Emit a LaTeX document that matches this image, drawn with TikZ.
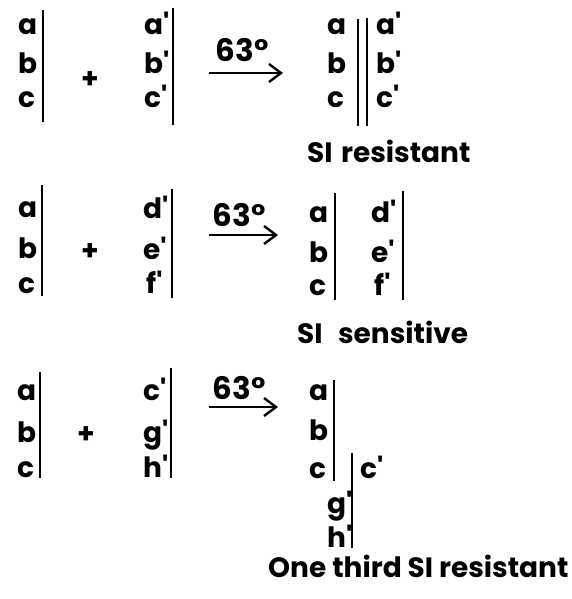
\documentclass[tikz,border=0pt]{standalone}
\usepackage{fontspec}
\setmainfont{Poppins}
\usetikzlibrary{arrows.meta}
\newcommand{\pr}{\textquotesingle}
\begin{document}
\begin{tikzpicture}[x=1pt,y=-1pt,
  lbl/.style={font=\fontsize{28}{28}\selectfont\bfseries, inner sep=0pt, anchor=base west},
  caption/.style={font=\fontsize{28}{28}\selectfont\bfseries, inner sep=0pt, anchor=base west},
  temp/.style={font=\fontsize{31}{31}\selectfont\bfseries, inner sep=0pt, anchor=base},
  bar/.style={line width=2.6pt},
  react/.style={line width=2.6pt, -{Straight Barb[length=12pt,width=18pt,line width=2.4pt]}},
  plus/.style={font=\fontsize{28}{28}\selectfont\bfseries, inner sep=0pt}]
\useasboundingbox (0,0) rectangle (572,599);

% ---------- first cross ----------
\node[lbl] (a1) at (18,35) {a};
\node[lbl] (b1) at (18,74) {b};
\node[lbl] (c1) at (18,108) {c};
\coordinate (l1t) at (43,10); \coordinate (l1b) at (43,122);
\draw[bar] (l1t) -- (l1b);
\node[plus] (p1) at (90,80) {+};
\node[lbl] (ap1) at (144,35) {a\pr};
\node[lbl] (bp1) at (144,74) {b\pr};
\node[lbl] (cp1) at (144,108) {c\pr};
\coordinate (r1t) at (173,8); \coordinate (r1b) at (173,125);
\draw[bar] (r1t) -- (r1b);
\coordinate (s1) at (209,73); \coordinate (e1) at (283,73);
\draw[react] (s1) -- (e1);
\node[temp] (t1) at (242,62) {63°};

\node[lbl] (ra1) at (327,35) {a};
\node[lbl] (rb1) at (327,74) {b};
\node[lbl] (rc1) at (327,108) {c};
\coordinate (d1t) at (358,19); \coordinate (d1b) at (358,126);
\coordinate (d2t) at (367,18); \coordinate (d2b) at (367,126);
\draw[bar] (d1t) -- (d1b);
\draw[bar] (d2t) -- (d2b);
\node[lbl] (rap1) at (376,35) {a\pr};
\node[lbl] (rbp1) at (376,74) {b\pr};
\node[lbl] (rcp1) at (376,108) {c\pr};
\node[caption] (res1) at (307,162) {SI\hspace{0.3em}resistant};

% ---------- second cross ----------
\node[lbl] (a2) at (18,217) {a};
\node[lbl] (b2) at (18,258) {b};
\node[lbl] (c2) at (18,293) {c};
\coordinate (l2t) at (42,185); \coordinate (l2b) at (42,296);
\draw[bar] (l2t) -- (l2b);
\node[plus] (p2) at (90,252) {+};
\node[lbl] (dp2) at (143,218) {d\pr};
\node[lbl] (ep2) at (143,259) {e\pr};
\node[lbl] (fp2) at (146,293) {f\pr};
\coordinate (r2t) at (172,189); \coordinate (r2b) at (172,298);
\draw[bar] (r2t) -- (r2b);
\coordinate (s2) at (209,235); \coordinate (e2) at (278,235);
\draw[react] (s2) -- (e2);
\node[temp] (t2) at (239,226) {63°};

\node[lbl] (ra2) at (309,222) {a};
\node[lbl] (rb2) at (309,262) {b};
\node[lbl] (rc2) at (309,295) {c};
\coordinate (m2t) at (335,193); \coordinate (m2b) at (335,300);
\draw[bar] (m2t) -- (m2b);
\node[lbl] (rdp2) at (371,222) {d\pr};
\node[lbl] (rep2) at (371,262) {e\pr};
\node[lbl] (rfp2) at (374,295) {f\pr};
\coordinate (n2t) at (403,191); \coordinate (n2b) at (403,300);
\draw[bar] (n2t) -- (n2b);
\node[caption] (sen2) at (297,343) {SI\hspace{0.55em}sensitive};

% ---------- third cross ----------
\node[lbl] (a3) at (17,400) {a};
\node[lbl] (b3) at (17,442) {b};
\node[lbl] (c3) at (17,477) {c};
\coordinate (l3t) at (40,372); \coordinate (l3b) at (40,478);
\draw[bar] (l3t) -- (l3b);
\node[plus] (p3) at (86,435) {+};
\node[lbl] (cp3) at (143,400) {c\pr};
\node[lbl] (gp3) at (143,442) {g\pr};
\node[lbl] (hp3) at (143,477) {h\pr};
\coordinate (r3t) at (171,368); \coordinate (r3b) at (171,478);
\draw[bar] (r3t) -- (r3b);
\coordinate (s3) at (209,407); \coordinate (e3) at (278,407);
\draw[react] (s3) -- (e3);
\node[temp] (t3) at (239,399) {63°};

\node[lbl] (ra3) at (309,400) {a};
\node[lbl] (rb3) at (309,440) {b};
\node[lbl] (rc3) at (309,478) {c};
\coordinate (m3t) at (334,380); \coordinate (m3b) at (334,481);
\draw[bar] (m3t) -- (m3b);
\coordinate (n3t) at (352,453); \coordinate (n3b) at (352,548);
\draw[bar] (n3t) -- (n3b);
\node[lbl] (rcp3) at (360,478) {c\pr};
\node[lbl] (rgp3) at (327,513) {g\pr};
\node[lbl] (rhp3) at (327,547) {h\pr};
\node[caption] (res3) at (268,577) {One third SI resistant};
\end{tikzpicture}
\end{document}
